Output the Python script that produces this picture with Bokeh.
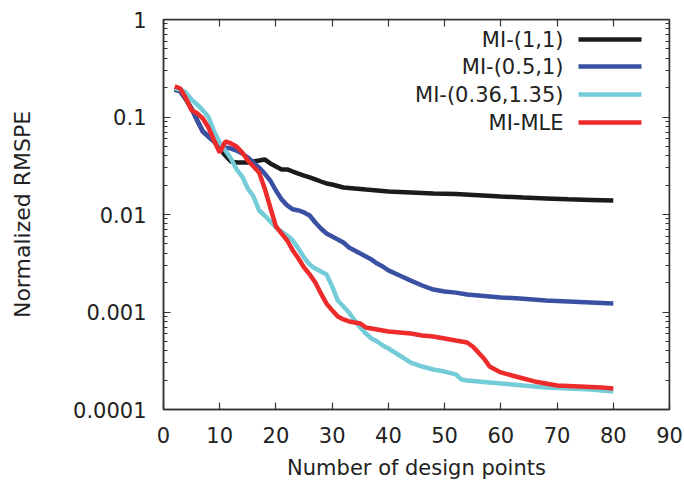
from bokeh.plotting import figure
from bokeh.models import (Range1d, LogAxis, LinearAxis, FixedTicker,
                          CustomJSTickFormatter, Label, BoxAnnotation)
from bokeh.embed import file_html
from bokeh.resources import INLINE

# ---------------- data ----------------
x_11 = [2, 3, 4, 5, 6, 7, 8, 9, 10, 11, 12, 13, 14, 15, 16, 17, 18, 19, 20,
        21, 22, 23, 24, 25, 26, 27, 28, 29, 30, 32, 34, 36, 38, 40, 44, 48,
        52, 56, 60, 64, 68, 72, 76, 80]
y_11 = [0.191, 0.183, 0.151, 0.122, 0.0921, 0.0710, 0.0631, 0.0561, 0.0475,
        0.0403, 0.0350, 0.0341, 0.0341, 0.0341, 0.0350, 0.0358, 0.0367,
        0.0334, 0.0311, 0.0290, 0.0290, 0.0276, 0.0263, 0.0251, 0.0240,
        0.0229, 0.0218, 0.0208, 0.0203, 0.0189, 0.0185, 0.0180, 0.0176,
        0.0172, 0.0168, 0.0164, 0.0162, 0.0158, 0.0153, 0.0149, 0.0146,
        0.0143, 0.0141, 0.0139]

x_051 = list(range(2, 41)) + [42, 44, 46, 48, 50, 52, 54, 56, 60, 64, 68, 72, 76, 80]
y_051 = [0.196, 0.183, 0.151, 0.122, 0.0921, 0.0710, 0.0631, 0.0561, 0.0510,
         0.0487, 0.0475, 0.0453, 0.0422, 0.0384, 0.0341, 0.0303, 0.0263,
         0.0223, 0.0176, 0.0143, 0.0124, 0.0113, 0.0110, 0.0105, 0.00977,
         0.00828, 0.00718, 0.00638, 0.00595, 0.00554, 0.00516, 0.00459,
         0.00428, 0.00398, 0.00371, 0.00345, 0.00314, 0.00293, 0.00267,
         0.00237, 0.00210, 0.00187, 0.00170, 0.00162, 0.00158, 0.00151,
         0.00148, 0.00141, 0.00137, 0.00131, 0.00128, 0.00125, 0.00122]

x_036 = list(range(2, 41)) + [42, 44, 46, 48, 50, 52, 53, 54, 56, 60, 64, 68, 72, 76, 80]
y_036 = [0.196, 0.191, 0.178, 0.151, 0.134, 0.117, 0.100, 0.0710, 0.0548,
         0.0453, 0.0375, 0.0290, 0.0245, 0.0185, 0.0153, 0.0110, 0.00977,
         0.00848, 0.00736, 0.00670, 0.00609, 0.00541, 0.00448, 0.00362,
         0.00307, 0.00279, 0.00260, 0.00243, 0.00183, 0.00131, 0.00114,
         0.000989, 0.000818, 0.000694, 0.000602, 0.000535, 0.000498,
         0.000453, 0.000422, 0.000358, 0.000303, 0.000276, 0.000257,
         0.000245, 0.000229, 0.000203, 0.000198, 0.000194, 0.000185,
         0.000176, 0.000168, 0.000164, 0.000160, 0.000153]

x_mle = list(range(2, 37)) + [38, 40, 42, 44, 46, 48, 50, 52, 54, 55, 56, 57,
                              58, 59, 60, 62, 64, 66, 68, 70, 74, 78, 80]
y_mle = [0.206, 0.196, 0.155, 0.117, 0.109, 0.0966, 0.0780, 0.0574, 0.0432,
         0.0561, 0.0535, 0.0498, 0.0432, 0.0358, 0.0311, 0.0270, 0.0185,
         0.0118, 0.00754, 0.00638, 0.00541, 0.00428, 0.00354, 0.00286,
         0.00243, 0.00201, 0.00155, 0.00122, 0.00104, 0.000899, 0.000838,
         0.000800, 0.000780, 0.000762, 0.000694, 0.000662, 0.000631,
         0.000617, 0.000602, 0.000574, 0.000561, 0.000535, 0.000510,
         0.000487, 0.000443, 0.000385, 0.000334, 0.000276, 0.000257,
         0.000240, 0.000223, 0.000208, 0.000194, 0.000185, 0.000176,
         0.000172, 0.000168, 0.000164]

series_names = ["MI-(1,1)", "MI-(0.5,1)", "MI-(0.36,1.35)", "MI-MLE"]
series_x = [x_11, x_051, x_036, x_mle]
series_y = [y_11, y_051, y_036, y_mle]
colors = ["#1c1a1a", "#3a50a2", "#74ccd8", "#ee2b2b"]

x_ticks = [0, 10, 20, 30, 40, 50, 60, 70, 80, 90]
y_ticks = [0.0001, 0.001, 0.01, 0.1, 1]
y_minor = [m * 10.0 ** e for e in range(-4, 0) for m in range(2, 10)]
x_max = 90
y_max = 1

FONT = "DejaVu Sans"
AX = "#333333"
TXT = "#222222"

p = figure(width=684, height=484, y_axis_type="log",
           x_range=Range1d(0, x_max), y_range=Range1d(1e-4, y_max),
           output_backend="svg", toolbar_location=None,
           min_border_left=163, min_border_right=15,
           min_border_top=19, min_border_bottom=75)
p.grid.visible = False
p.outline_line_color = AX
p.outline_line_width = 1.5
p.background_fill_color = "white"
p.border_fill_color = "white"

for xs, ys, c in zip(series_x, series_y, colors):
    p.line(xs, ys, line_color=c, line_width=4.5)

xt = FixedTicker(ticks=x_ticks, minor_ticks=[])
yt = FixedTicker(ticks=y_ticks, minor_ticks=y_minor)
fmt = CustomJSTickFormatter(code="return tick.toString();")
blank = CustomJSTickFormatter(code="return '';")


def style(ax, labels=True):
    ax.axis_line_color = AX
    ax.axis_line_width = 1.5
    ax.major_tick_line_color = AX
    ax.minor_tick_line_color = AX
    ax.major_tick_line_width = 1.2
    ax.minor_tick_line_width = 1.0
    ax.major_tick_in = 7
    ax.major_tick_out = 0
    ax.minor_tick_in = 4
    ax.minor_tick_out = 0
    ax.major_label_text_font = FONT
    ax.major_label_text_font_size = "21px"
    ax.major_label_text_color = TXT
    ax.axis_label_text_font = FONT
    ax.axis_label_text_font_size = "21px"
    ax.axis_label_text_font_style = "normal"
    ax.axis_label_text_color = TXT
    if not labels:
        ax.major_label_standoff = 0
        ax.major_label_text_font_size = "0px"


xa = p.xaxis[0]
xa.ticker = xt
xa.formatter = fmt
xa.axis_label = "Number of design points"
style(xa)
xa.major_label_standoff = 17
xa.axis_label_standoff = 10

ya = p.yaxis[0]
ya.ticker = yt
ya.formatter = fmt
ya.axis_label = "Normalized RMSPE"
style(ya)
ya.axis_label_text_font_size = "22px"
ya.major_label_standoff = 17
ya.axis_label_standoff = 35

# mirrored inward ticks on the top and right edges of the box
top = LinearAxis(ticker=xt, formatter=blank, fixed_location=y_max)
style(top, labels=False)
p.add_layout(top, "above")
right = LogAxis(ticker=yt, formatter=blank, fixed_location=x_max)
style(right, labels=False)
p.add_layout(right, "right")

# legend (labels right-aligned, line samples to their right)
row_y = [370, 343, 315, 287]
for name, c, ry in zip(series_names, colors, row_y):
    p.add_layout(Label(x=400, y=ry, x_units="screen", y_units="screen",
                       text=name, text_align="right", text_baseline="middle",
                       text_font=FONT, text_font_size="21px",
                       text_color=TXT))
    p.add_layout(BoxAnnotation(left=415, right=478, bottom=ry - 2.3, top=ry + 2.3,
                               left_units="screen", right_units="screen",
                               bottom_units="screen", top_units="screen",
                               fill_color=c, fill_alpha=1.0, line_color=None))

open("out.html", "w").write(file_html(p, INLINE))
